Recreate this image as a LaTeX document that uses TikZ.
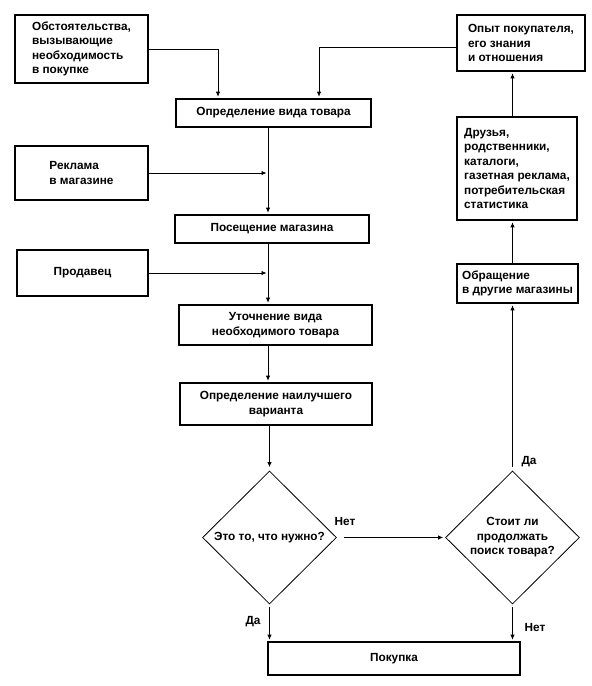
\documentclass[tikz,border=0pt]{standalone}
\usepackage{fontspec}
\setmainfont{Liberation Sans}
\usetikzlibrary{arrows.meta,positioning,shapes.geometric}

\begin{document}
\begin{tikzpicture}[
    x=1pt, y=-1pt,
    every node/.style={font=\bfseries\fontsize{11.8}{14.5}\selectfont},
    box/.style={draw, line width=1.6pt, inner sep=0pt},
    decision/.style={draw, diamond, line width=0.8pt, minimum width=134pt, minimum height=133pt, inner sep=0pt, align=center},
    flow/.style={-{Latex[length=5pt,width=4.5pt]}, line width=0.8pt, shorten >=1.5pt},
    lbl/.style={inner sep=1pt}
]
\useasboundingbox (0,0) rectangle (592,686);
\coordinate (spine) at (268,0);
% left column
\node[box, minimum width=133pt, minimum height=68pt, align=left] (obst) at (81.5,49) {Обстоятельства,\\вызывающие\\необходимость\\в покупке};
\node[box, minimum width=133pt, minimum height=54pt, align=left] (reklama) at (81.5,173) {Реклама\\в магазине};
\node[box, minimum width=131pt, minimum height=46pt] (prodavets) at (82.5,273) {Продавец};
% main column
\node[box, minimum width=195pt, minimum height=28pt] (opred) at (273.5,113) {Определение вида товара};
\node[box, minimum width=194pt, minimum height=28pt] (poseshch) at (272,229) {Посещение магазина};
\node[box, minimum width=193pt, minimum height=40pt, align=center] (utochn) at (275.5,325) {Уточнение вида\\необходимого товара};
\node[box, minimum width=192pt, minimum height=42pt, align=center] (nailuch) at (276,404) {Определение наилучшего\\варианта};
\node[decision] (nuzhno) at (269.5,537.5) {Это то, что нужно?};
\node[decision] (poisk) at (512.5,537.5) {Стоит ли\\продолжать\\поиск товара?};
\node[box, minimum width=252pt, minimum height=33pt] (pokupka) at (394,658.5) {Покупка};
% right column
\node[box, minimum width=128pt, minimum height=56pt, align=left] (opyt) at (521,43) {Опыт покупателя,\\его знания\\и отношения};
\node[box, minimum width=120pt, minimum height=103pt, align=left] (druzya) at (517,168.5) {Друзья,\\родственники,\\каталоги,\\газетная реклама,\\потребительская\\статистика};
\node[box, minimum width=121pt, minimum height=39pt, align=left] (obrash) at (517.5,283.5) {Обращение\\в другие магазины};
% labels
\node[lbl] (net1) at (345,521) {Нет};
\node[lbl] (da1) at (253,622) {Да};
\node[lbl] (net2) at (535,627) {Нет};
\node[lbl] (da2) at (529,462) {Да};
% connectors
\draw[flow] (obst.east) -| ([xshift=-55.5pt]opred.north);
\draw[flow] ([yshift=-4pt]opyt.west) -| ([xshift=45.5pt]opred.north);
\draw[flow] (opred.south -| spine) -- (poseshch.north -| spine);
\draw[flow] (reklama.east) -- (reklama.east -| spine);
\draw[flow] (poseshch.south -| spine) -- (utochn.north -| spine);
\draw[flow] (prodavets.east) -- (prodavets.east -| spine);
\draw[flow] (utochn.south -| spine) -- (nailuch.north -| spine);
\draw[flow, shorten >=3.5pt] (nailuch.south -| nuzhno.north) -- (nuzhno.north);
\draw[flow, shorten <=7pt, shorten >=2pt] (nuzhno.east) -- (poisk.west);
\draw[flow, shorten <=3pt] (nuzhno.south) -- (nuzhno.south |- pokupka.north);
\draw[flow, shorten <=3pt] (poisk.south) -- (poisk.south |- pokupka.north);
\draw[flow, shorten <=3.5pt] (poisk.north) -- (poisk.north |- obrash.south);
\draw[flow] (obrash.north -| poisk.north) -- (druzya.south -| poisk.north);
\draw[flow] (druzya.north -| poisk.north) -- (opyt.south -| poisk.north);
\end{tikzpicture}
\end{document}
